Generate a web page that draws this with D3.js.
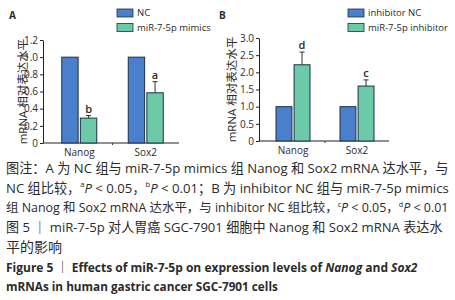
<!DOCTYPE html>
<html><head><meta charset="utf-8">
<script src="https://cdn.jsdelivr.net/npm/d3@7"></script>
<style>
html,body{margin:0;padding:0;background:#fff;}
svg text{font-family:"Open Sans","Noto Sans CJK SC",sans-serif;fill:#2b2b2b;}
</style></head>
<body><svg id="c" width="455" height="300"></svg>
<script>
const categories = ["Nanog", "Sox2"];
// Panel A
const seriesA = ["NC", "miR-7-5p mimics"];
const ncA = [1.0, 1.0];
const mimicsA = [0.29, 0.585];
const mimicsErrA = [0.03, 0.13];
const sigA = ["b", "a"];
const ticksA = [0, 0.2, 0.4, 0.6, 0.8, 1.0, 1.2];
// Panel B
const seriesB = ["inhibitor NC", "miR-7-5p inhibitor"];
const ncB = [1.0, 1.0];
const inhB = [2.22, 1.6];
const inhErrB = [0.37, 0.18];
const sigB = ["d", "c"];
const ticksB = [0, 0.5, 1.0, 1.5, 2.0, 2.5, 3.0];
const yLabel = "mRNA 相对表达水平";
const colors = ["#4a7fcb", "#6ccaa8"];

const svg = d3.select("#c");

function panel(opt) {
  const g = svg.append("g");
  const y = d3.scaleLinear().domain(opt.domain).range([opt.y0, opt.y1]);
  const x = d3.scaleBand().domain(categories).range(opt.xr);
  const xs = d3.scaleBand().domain([0, 1]).range([0, opt.inner]).paddingInner(0.12);
  const ya = d3.axisLeft(y).tickValues(opt.ticks).tickSize(3).tickSizeOuter(0)
    .tickFormat(d => d === 0 ? "0" : d3.format(".1f")(d));
  const yg = g.append("g").attr("transform", `translate(${opt.ax},0)`).call(ya);
  yg.selectAll("text").style("font-size", "10px").attr("dx", "1");
  yg.selectAll("path,line").attr("stroke", "#222");
  const xa = d3.axisBottom(x).tickSize(0).tickPadding(6);
  const xg = g.append("g").attr("transform", `translate(0,${opt.y0})`).call(xa);
  xg.select(".domain").attr("d", `M${opt.ax},0H${opt.xr[1]}`).attr("stroke", "#222");
  xg.selectAll("text").style("font-size", "10px");
  g.append("line").attr("x1", x("Sox2")).attr("x2", x("Sox2"))
    .attr("y1", opt.y0).attr("y2", opt.y0 + 2).attr("stroke", "#444");
  const data = categories.map((c, i) => ({c, v: [opt.s0[i], opt.s1[i]], e: opt.err[i], s: opt.sig[i]}));
  const grp = g.selectAll(".grp").data(data).join("g")
    .attr("transform", d => `translate(${x(d.c) + x.bandwidth()/2 - opt.inner/2},0)`);
  grp.selectAll("rect").data(d => d.v).join("rect")
    .attr("x", (d, i) => xs(i)).attr("width", xs.bandwidth())
    .attr("y", d => y(d)).attr("height", d => y(0) - y(d))
    .attr("fill", (d, i) => colors[i]).attr("stroke", opt.stroke).attr("stroke-width", 1);
  const ex = xs(1) + xs.bandwidth()/2;
  grp.append("line").attr("x1", ex).attr("x2", ex)
    .attr("y1", d => y(d.v[1])).attr("y2", d => y(d.v[1] + d.e)).attr("stroke", "#333");
  grp.append("line").attr("x1", ex - 2.5).attr("x2", ex + 2.5)
    .attr("y1", d => y(d.v[1] + d.e)).attr("y2", d => y(d.v[1] + d.e)).attr("stroke", "#333");
  grp.append("text").attr("x", ex).attr("y", d => y(d.v[1] + d.e) - 3)
    .attr("text-anchor", "middle").style("font-size", "11px").style("font-weight", "600").text(d => d.s);
  g.append("text").attr("transform", `translate(${opt.lx},${(opt.y0 + opt.y1)/2}) rotate(-90)`)
    .attr("text-anchor", "middle").attr("dy", "0.35em").style("font-size", "11.5px").text(yLabel);
  g.append("text").attr("x", opt.px).attr("y", 19).style("font-size", "10px").style("font-weight", "bold").text(opt.letter);
  opt.series.forEach((s, i) => {
    g.append("rect").attr("x", opt.lgx).attr("y", 9 + i*14.5).attr("width", 16).attr("height", 8)
      .attr("fill", colors[i]).attr("stroke", opt.stroke).attr("stroke-width", 0.8);
    g.append("text").attr("x", opt.lgx + 20).attr("y", 13 + i*14.5).attr("dy", "0.35em")
      .style("font-size", "9.5px").text(s);
  });
}

panel({domain: [0, 1.2], y0: 143, y1: 40, xr: [46, 179], ax: 43, inner: 35, ticks: ticksA,
  s0: ncA, s1: mimicsA, err: mimicsErrA, sig: sigA, lx: 23, px: 9, letter: "A",
  series: seriesA, lgx: 117, stroke: "#1d3146"});
panel({domain: [0, 3.0], y0: 141, y1: 38, xr: [261, 389], ax: 259, inner: 34, ticks: ticksB,
  s0: ncB, s1: inhB, err: inhErrB, sig: sigB, lx: 232, px: 219, letter: "B",
  series: seriesB, lgx: 348, stroke: "#1d3146"});

const capLines = [
  {y: 173, w: 443, parts: [["图注：A 为 NC 组与 miR-7-5p mimics 组 Nanog 和 Sox2 mRNA 达水平，与"]]},
  {y: 193, w: 443, parts: [["NC 组比较，"],["a","sup"],["P","i"],[" < 0.05，"],["b","sup"],["P","i"],[" < 0.01；B 为 inhibitor NC 组与 miR-7-5p mimics"]]},
  {y: 212, w: 443, parts: [["组 Nanog 和 Sox2 mRNA 达水平，与 inhibitor NC 组比较，"],["c","sup"],["P","i"],[" < 0.05，"],["d","sup"],["P","i"],[" < 0.01"]]},
  {y: 232, w: 437, parts: [["图 5 ｜ miR-7-5p 对人胃癌 SGC-7901 细胞中 Nanog 和 Sox2 mRNA 表达水"]]},
  {y: 252, w: 56, parts: [["平的影响"]]},
  {y: 272, w: 412, bold: true, parts: [["Figure 5 ｜ Effects of miR-7-5p on expression levels of "],["Nanog","i"],[" and "],["Sox2","i"]]},
  {y: 291, w: 272, bold: true, parts: [["mRNAs in human gastric cancer SGC-7901 cells"]]}
];
capLines.forEach(L => {
  const base = 12.5;
  const t = svg.append("text").attr("x", 6).attr("y", L.y)
    .style("font-size", base + "px").style("font-weight", L.bold ? "bold" : "normal");
  let afterSup = false;
  L.parts.forEach(p => {
    const ts = t.append("tspan").text(p[0]);
    if (p[1] === "i") ts.style("font-style", "italic");
    if (p[1] === "sup") { ts.style("font-size", "0.58em").attr("dy", "-0.75em"); afterSup = true; }
    else if (afterSup) { ts.attr("dy", "0.435em"); afterSup = false; }
  });
  const len = t.node().getComputedTextLength();
  t.style("font-size", (base * L.w / len) + "px");
});
</script></body></html>
